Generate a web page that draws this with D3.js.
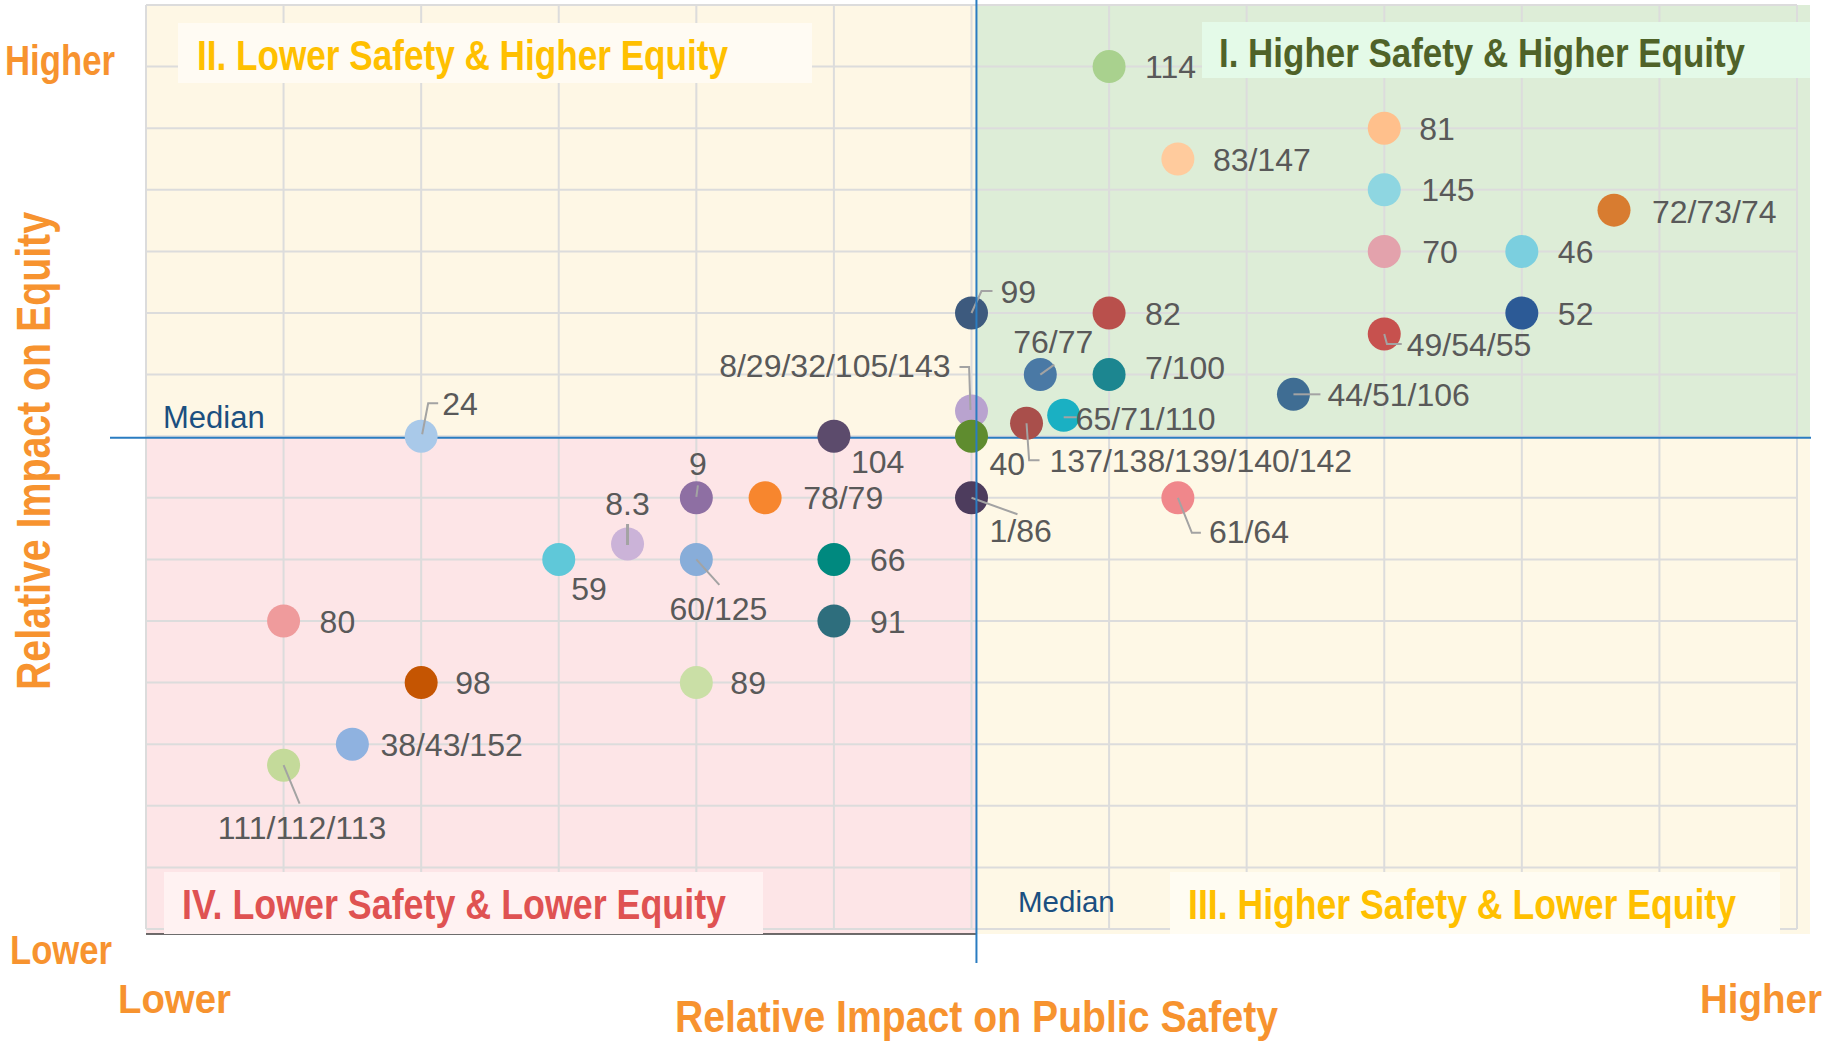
<!DOCTYPE html>
<html>
<head>
  <meta charset="utf-8">
  <title>Relative Impact on Public Safety vs Equity</title>
  <script src="https://cdn.jsdelivr.net/npm/d3@7/dist/d3.min.js"></script>
  <style>
    body { margin: 0; background: #fff; }
    svg { display: block; }
  </style>
</head>
<body>
<div id="chart"></div>
<script>
  // point ids and their scores (grid units, median of each axis sits at ~6 / ~0)
  var pointLabels = ["114", "81", "83/147", "145", "72/73/74", "70", "46", "52", "49/54/55",
                     "99", "82", "76/77", "7/100", "44/51/106", "8/29/32/105/143", "65/71/110",
                     "137/138/139/140/142", "40", "1/86", "61/64", "104", "9", "78/79", "8.3",
                     "59", "60/125", "66", "91", "89", "80", "98", "38/43/152", "111/112/113", "24"];
  var safety = [7, 9, 7.5, 9, 10.67, 9, 10, 10, 9,
                6, 7, 6.5, 7, 8.34, 6, 6.67,
                6.4, 6, 6, 7.5, 5, 4, 4.5, 3.5,
                3, 4, 5, 5, 4, 1, 2, 1.5, 1, 2];
  var equity = [6, 5, 4.5, 4, 3.67, 3, 3, 2, 1.66,
                2, 2, 1, 1, 0.68, 0.41, 0.34,
                0.21, 0, -1, -1, 0, -1, -1, -1.75,
                -2, -2, -2, -3, -4, -3, -4, -5, -5.34, 0];
  var palette = ["#A9D18E", "#FFC08C", "#FFCB9D", "#8ED6E1", "#D87C30", "#E3A2AC", "#7BCFDF", "#2C5A96", "#C7514E",
                 "#3D5A7E", "#B9504C", "#4A79A5", "#1C8690", "#3F6D93", "#B9A3CF", "#1AB0C3",
                 "#A94F4B", "#5F8C2F", "#4D3C5D", "#F0878B", "#5C4B6C", "#8E6FA3", "#F7862E", "#CBB3D8",
                 "#5FC8D9", "#88ADD9", "#00897F", "#2E6E7D", "#CADFA6", "#EF9B9C", "#C55502", "#8FB2E0", "#C4DA9A", "#A9C9E9"];

  var xTicks = d3.range(0, 13);
  var yTicks = d3.range(-8, 8);
  var medianSafety = 6.036, medianEquity = -0.025;

  // label placement relative to the dot centre (px); leader = polyline points
  var labelLayout = {
    "72/73/74": {dx: 38, dy: 1},
    "70": {dx: 38, dy: 0},
    "145": {dx: 37, dy: 0},
    "81": {dx: 35, dy: 0},
    "83/147": {dx: 35, dy: 0},
    "7/100": {dx: 36, dy: -7},
    "78/79": {dx: 38, dy: 0},
    "89": {dx: 34, dy: 0},
    "98": {dx: 34, dy: 0},
    "38/43/152": {dx: 28, dy: 0},
    "44/51/106": {dx: 34, dy: 0, leader: [[0, 0], [27, 0]]},
    "99": {dx: 29, dy: -22, leader: [[0, 0], [10, -22], [21, -22]]},
    "8/29/32/105/143": {dx: -21, dy: -45, anchor: "end", leader: [[-1, -1], [-2.4, -44], [-12, -44]]},
    "40": {dx: 18, dy: 27},
    "137/138/139/140/142": {dx: 23, dy: 37, leader: [[0, 0], [2.6, 37], [13, 37]]},
    "65/71/110": {dx: 12, dy: 3, leader: [[0, 2], [13, 2]]},
    "76/77": {dx: 13, dy: -33, anchor: "middle", leader: [[0, 0], [14, -10]]},
    "1/86": {dx: 18, dy: 33, leader: [[0, 0], [46, 16.5]]},
    "61/64": {dx: 31, dy: 34, leader: [[0, 0], [14, 35], [23, 35]]},
    "49/54/55": {dx: 22.5, dy: 10.5, leader: [[0, 0], [2.7, 10], [17.5, 10]]},
    "104": {dx: 17, dy: 25.5},
    "9": {dx: 1.6, dy: -34, anchor: "middle", leader: [[0, -1], [1.6, -12.5]]},
    "8.3": {dx: 0, dy: -41, anchor: "middle", leader: [[0, -20], [0, 1]], lw: 3},
    "59": {dx: 12.5, dy: 29},
    "60/125": {dx: 22, dy: 49, anchor: "middle", leader: [[0, 0], [23, 25.5]]},
    "111/112/113": {dx: 18.5, dy: 62, anchor: "middle", leader: [[0, 0], [16, 38.5]]},
    "24": {dx: 21, dy: -33, leader: [[1, -2], [7, -33], [17, -33]]}
  };

  var W = 1826, H = 1041;
  var narrow = "'Liberation Sans Narrow', 'Arial Narrow', 'Liberation Sans', Arial, sans-serif";
  var regular = "'Liberation Sans', Arial, sans-serif";
  var orange = "#F7932F";

  var svg = d3.select("#chart").append("svg").attr("width", W).attr("height", H);

  var x = d3.scaleLinear().domain([0, 12]).range([146, 1797]);
  var y = d3.scaleLinear().domain([-8, 7]).range([929, 5]);

  var mx = x(medianSafety), my = y(medianEquity);
  var bgLeft = 146, bgTop = 5, bgRight = 1810, bgBottom = 934;

  // quadrant backgrounds
  var bg = svg.append("g");
  bg.append("rect").attr("x", bgLeft).attr("y", bgTop).attr("width", mx - bgLeft).attr("height", my - bgTop).attr("fill", "#FEF7E5");
  bg.append("rect").attr("x", mx).attr("y", bgTop).attr("width", bgRight - mx).attr("height", my - bgTop).attr("fill", "#DDEDD7");
  bg.append("rect").attr("x", bgLeft).attr("y", my).attr("width", mx - bgLeft).attr("height", bgBottom - my).attr("fill", "#FDE5E7");
  bg.append("rect").attr("x", mx).attr("y", my).attr("width", bgRight - mx).attr("height", bgBottom - my).attr("fill", "#FEF8E6");

  // grid
  var grid = svg.append("g").attr("stroke", "#DCDCDC").attr("stroke-width", 2);
  grid.selectAll("line.v").data(xTicks).enter().append("line").attr("class", "v")
    .attr("x1", function(d){ return x(d); }).attr("x2", function(d){ return x(d); })
    .attr("y1", y(7)).attr("y2", y(-8));
  grid.selectAll("line.h").data(yTicks).enter().append("line").attr("class", "h")
    .attr("x1", x(0)).attr("x2", x(12))
    .attr("y1", function(d){ return y(d); }).attr("y2", function(d){ return y(d); });

  // baseline under the lower-left quadrant
  svg.append("line").attr("x1", bgLeft).attr("x2", mx).attr("y1", bgBottom).attr("y2", bgBottom)
    .attr("stroke", "#3C3C3C").attr("stroke-width", 1.5);

  // quadrant titles
  var quadrants = [
    {t: "I. Higher Safety & Higher Equity", box: [1202, 22, 608, 56], tx: 1219, ty: 66.5, len: 526, size: 40, color: "#4F6228", fill: "#E4FAE8"},
    {t: "II. Lower Safety & Higher Equity", box: [178, 23, 634, 60], tx: 197, ty: 70, len: 531, size: 42, color: "#FFC000", fill: "#FFFBF3"},
    {t: "III. Higher Safety & Lower Equity", box: [1170, 872, 610, 62], tx: 1188, ty: 919, len: 548, size: 42, color: "#FFC000", fill: "#FFFCF2"},
    {t: "IV. Lower Safety & Lower Equity", box: [164, 872, 599, 62], tx: 182, ty: 919, len: 544, size: 42, color: "#DF5252", fill: "#FFF2F2"}
  ];
  var qg = svg.append("g");
  quadrants.forEach(function(q){
    qg.append("rect").attr("x", q.box[0]).attr("y", q.box[1]).attr("width", q.box[2]).attr("height", q.box[3]).attr("fill", q.fill);
    qg.append("text").attr("x", q.tx).attr("y", q.ty).text(q.t)
      .attr("font-family", narrow).attr("font-weight", "bold").attr("font-size", q.size)
      .attr("fill", q.color).attr("textLength", q.len).attr("lengthAdjust", "spacingAndGlyphs");
  });

  // horizontal median (behind dots)
  svg.append("line").attr("x1", 110).attr("x2", 1811).attr("y1", my).attr("y2", my)
    .attr("stroke", "#2A7CC1").attr("stroke-width", 2);

  svg.append("text").attr("x", 163).attr("y", 428).text("Median")
    .attr("font-family", regular).attr("font-size", 31).attr("fill", "#1B4F80");
  svg.append("text").attr("x", 1018).attr("y", 912).text("Median")
    .attr("font-family", regular).attr("font-size", 29.5).attr("fill", "#1B4F80");

  var pts = pointLabels.map(function(l, i){
    return {label: l, sx: safety[i], eq: equity[i], color: palette[i]};
  });

  var dots = svg.append("g");
  dots.selectAll("circle").data(pts).enter().append("circle")
    .attr("cx", function(d){ return x(d.sx); })
    .attr("cy", function(d){ return y(d.eq); })
    .attr("r", 16.5)
    .attr("fill", function(d){ return d.color; });

  // leader lines
  var lineGen = d3.line();
  var leaders = svg.append("g").attr("fill", "none").attr("stroke", "#A3A3A3");
  pts.forEach(function(d){
    var lay = labelLayout[d.label];
    if (!lay || !lay.leader) return;
    var cx = x(d.sx), cy = y(d.eq);
    leaders.append("path")
      .attr("d", lineGen(lay.leader.map(function(p){ return [cx + p[0], cy + p[1]]; })))
      .attr("stroke-width", lay.lw || 2);
  });

  // vertical median (drawn over dots)
  svg.append("line").attr("x1", mx).attr("x2", mx).attr("y1", 0).attr("y2", 963)
    .attr("stroke", "#2A7CC1").attr("stroke-width", 2);

  // point labels
  var labels = svg.append("g").attr("font-family", regular).attr("font-size", 32).attr("fill", "#595959");
  labels.selectAll("text").data(pts).enter().append("text")
    .attr("x", function(d){ var l = labelLayout[d.label] || {}; return x(d.sx) + (l.dx !== undefined ? l.dx : 36); })
    .attr("y", function(d){ var l = labelLayout[d.label] || {}; return y(d.eq) + (l.dy || 0); })
    .attr("dy", "0.36em")
    .attr("text-anchor", function(d){ var l = labelLayout[d.label] || {}; return l.anchor || "start"; })
    .text(function(d){ return d.label; });

  // axis titles and ends
  var axisText = [
    {t: "Higher", x: 5, y: 75, len: 110, size: 42},
    {t: "Lower", x: 10, y: 964, len: 102, size: 41},
    {t: "Lower", x: 118, y: 1013, len: 113, size: 41},
    {t: "Higher", x: 1700, y: 1013, len: 122, size: 41},
    {t: "Relative Impact on Public Safety", x: 675, y: 1031.5, len: 603, size: 45}
  ];
  axisText.forEach(function(a){
    svg.append("text").attr("x", a.x).attr("y", a.y).text(a.t)
      .attr("font-family", narrow).attr("font-weight", "bold").attr("font-size", a.size)
      .attr("fill", orange).attr("textLength", a.len).attr("lengthAdjust", "spacingAndGlyphs");
  });
  svg.append("text").attr("transform", "translate(50,451) rotate(-90)")
    .attr("text-anchor", "middle").text("Relative Impact on Equity")
    .attr("font-family", narrow).attr("font-weight", "bold").attr("font-size", 48)
    .attr("fill", orange).attr("textLength", 478).attr("lengthAdjust", "spacingAndGlyphs");
</script>
</body>
</html>
